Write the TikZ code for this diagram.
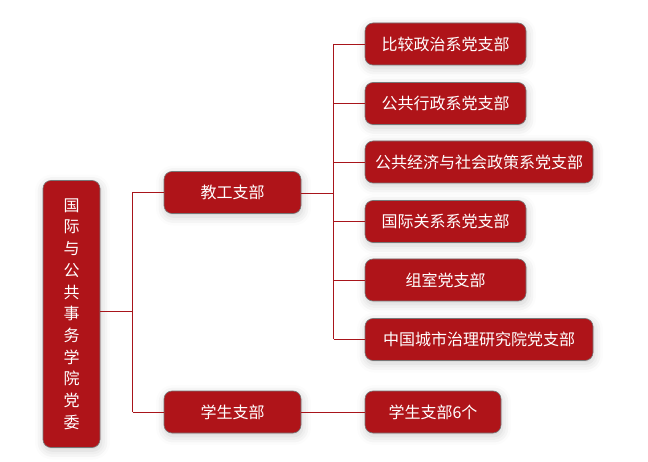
\documentclass[tikz,border=0pt]{standalone}
\usepackage{fontspec}
\newfontfamily\cjk{Noto Sans CJK SC}
\usetikzlibrary{shadows.blur}
\definecolor{boxred}{HTML}{AF1419}
\definecolor{linered}{HTML}{A8151B}
\definecolor{edgegray}{HTML}{777777}
\tikzset{
  box/.style={draw=edgegray, line width=0.6pt, fill=boxred, rounded corners=8pt,
    text=white, font=\cjk\fontsize{16}{21.7}\selectfont, inner sep=0pt,
    blur shadow={shadow xshift=1pt, shadow yshift=-3pt, shadow blur radius=9pt, shadow opacity=20}},
  conn/.style={draw=linered, line width=0.8pt},
}
\begin{document}
\begin{tikzpicture}[x=1pt,y=-1pt]
\useasboundingbox (0,0) rectangle (648,462);
\node[box, minimum width=57pt, minimum height=267pt, align=center] (root) at (71.5,314)
  {国\\际\\与\\公\\共\\事\\务\\学\\院\\党\\委};
\node[box, minimum width=137pt, minimum height=42pt] (jg) at (232.5,192.5) {教工支部};
\node[box, minimum width=137pt, minimum height=42pt] (xs) at (232.5,412) {学生支部};
\node[box, minimum width=161pt, minimum height=42pt] (b1) at (445.5,44) {比较政治系党支部};
\node[box, minimum width=161pt, minimum height=42pt] (b2) at (445.5,103.5) {公共行政系党支部};
\node[box, minimum width=228pt, minimum height=42pt] (b3) at (479,162) {公共经济与社会政策系党支部};
\node[box, minimum width=161pt, minimum height=42pt] (b4) at (445.5,221.5) {国际关系系党支部};
\node[box, minimum width=161pt, minimum height=42pt] (b5) at (445.5,280) {组室党支部};
\node[box, minimum width=228pt, minimum height=42pt] (b6) at (479,339.5) {中国城市治理研究院党支部};
\node[box, minimum width=136pt, minimum height=42pt] (b7) at (433,412) {学生支部6个};
\coordinate (j1) at (132.5,311);
\coordinate (j2) at (333.5,193);
\draw[conn] (root.east |- j1) -- (j1);
\draw[conn] (j1 |- jg.west) -- (j1 |- xs.west);
\draw[conn] (j1 |- jg.west) -- (jg.west);
\draw[conn] (j1 |- xs.west) -- (xs.west);
\draw[conn] (jg.east |- j2) -- (j2);
\draw[conn] (j2 |- b1.west) -- (j2 |- b6.west);
\foreach \n in {b1,b2,b3,b4,b5,b6} \draw[conn] (j2 |- \n.west) -- (\n.west);
\draw[conn] (xs.east) -- (b7.west);
\end{tikzpicture}
\end{document}
